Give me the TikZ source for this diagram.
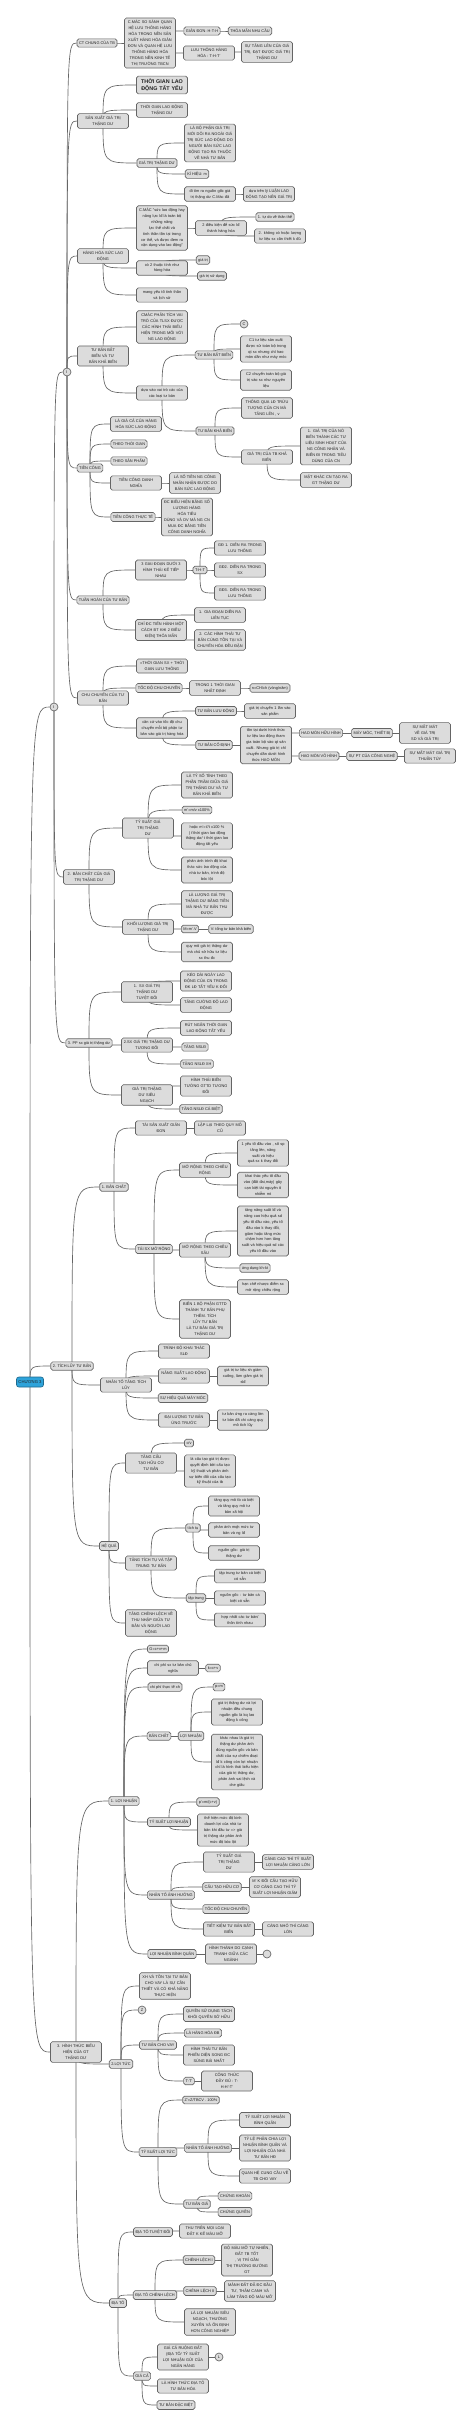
\documentclass[tikz,border=0pt]{standalone}
\usepackage{fontspec}
\setmainfont{Liberation Sans}
\usepackage{tikz}
\usetikzlibrary{backgrounds}
\definecolor{mmfill}{HTML}{DCDCDC}
\definecolor{mmline}{HTML}{656565}
\definecolor{mmtext}{HTML}{222222}
\definecolor{mmroot}{HTML}{2EA3DA}

\begin{document}
\begin{tikzpicture}[
  x=1pt, y=-1pt,
  box/.style={
    draw=mmline, fill=mmfill, rounded corners=1.8pt, line width=0.65pt,
    text=mmtext, font=\fontsize{3.9}{5.9}\selectfont,
    inner xsep=2pt, inner ysep=2.4pt, align=center
  },
  wbox/.style={box, text width=47pt},
  bigbox/.style={wbox, font=\fontsize{5.4}{7.2}\selectfont\bfseries},
  dot/.style={
    draw=mmline, fill=mmfill, circle, line width=0.65pt, inner sep=0.4pt,
    minimum size=8pt, text=mmtext, font=\fontsize{3.9}{4.5}\selectfont
  },
  rootbox/.style={
    box, fill=mmroot, draw=mmroot!65!black, rounded corners=2.5pt,
    minimum width=26pt, minimum height=10pt, font=\fontsize{4.2}{5}\selectfont
  },
  link/.style={draw=mmline, line width=0.65pt},
]
\useasboundingbox (0,0) rectangle (474,2428);

% Root
\node[rootbox] (root) at (30,1382) {CHƯƠNG 3};

% Part I / II
\node[dot] (cII) at (54,707) {I};
\node[dot] (cI) at (67,372) {I};

% CT chung
\node[box] (n1) at (97,43) {CT CHUNG CỦA TB};
\node[wbox] (n1a) at (150,43) {C.MÁC SO SÁNH QUAN\\HỆ LƯU THÔNG HÀNG\\HÓA TRONG NỀN SẢN\\XUẤT HÀNG HÓA GIẢN\\ĐƠN VÀ QUAN HỆ LƯU\\THÔNG HÀNG HÓA\\TRONG NỀN KINH TẾ\\THỊ TRƯỜNG TBCN};
\node[box] (n1a1) at (202,31) {GIẢN ĐƠN: H-T-H};
\node[box] (n1a1a) at (250,31) {THỎA MÃN NHU CẦU};
\node[wbox] (n1a2) at (209,53) {LƯU THÔNG HÀNG\\HÓA : T-H-T'};
\node[wbox] (n1a2a) at (267,52) {SỰ TĂNG LÊN CỦA GIÁ\\TRỊ, ĐẠT ĐƯỢC GIÁ TRỊ\\THẶNG DƯ};

% San xuat gia tri thang du
\node[wbox] (n2) at (103,121) {SẢN XUẤT GIÁ TRỊ\\THẶNG DƯ};
\node[bigbox] (n2a) at (162,85) {THỜI GIAN LAO\\ĐỘNG TẤT YẾU};
\node[wbox] (n2b) at (162,110) {THỜI GIAN LAO ĐỘNG\\THẶNG DƯ};
\node[box] (n2c) at (157,163) {GIÁ TRỊ THẶNG DƯ};
\node[wbox] (n2c1) at (210,143) {LÀ BỘ PHẬN GIÁ TRỊ\\MỚI DÔI RA NGOÀI GIÁ\\TRỊ SỨC LAO ĐỘNG DO\\NGƯỜI BÁN SỨC LAO\\ĐỘNG TẠO RA THUỘC\\VỀ NHÀ TƯ BẢN};
\node[box] (n2c2) at (197,174) {KÍ HIỆU: m};
\node[wbox] (n2c3) at (210,194) {đi tìm ra nguồn gốc giá\\trị thặng dư C.Mác đã};
\node[wbox] (n2c3a) at (269,194) {dựa trên lý LUẬN LAO\\ĐỘNG TẠO NÊN GIÁ TRỊ};

% Hang hoa suc lao dong
\node[wbox] (n3) at (103,256) {HÀNG HÓA SỨC LAO\\ĐỘNG};
\node[wbox] (n3a) at (162,228) {C.MÁC "sức lao động hay\\năng lực lđ là toàn bộ\\những năng lực thể chất và\\tinh thần tồn tại trong\\cơ thể, và được đem ra\\vận dụng vào lao động"};
\node[wbox] (n3a1) at (221,228) {2 điều kiện để sức lđ\\thành hàng hóa};
\node[box] (n3a1a) at (275,217) {1. tự do về thân thể};
\node[wbox] (n3a1b) at (280,236) {2. không có hoặc lượng\\tư liệu sx cần thiết k đủ};
\node[wbox] (n3b) at (162,268) {có 2 thuộc tính như\\hàng hóa};
\node[box] (n3b1) at (203,260) {giá trị};
\node[box] (n3b2) at (212,276) {giá trị sử dụng};
\node[wbox] (n3c) at (162,295) {mang yếu tố tinh thần\\và lịch sử};

% Tu ban bat bien va kha bien
\node[wbox] (n4) at (103,356) {TƯ BẢN BẤT BIẾN VÀ TƯ\\BẢN KHẢ BIẾN};
\node[wbox] (n4a) at (162,327) {CMÁC PHÂN TÍCH VAI\\TRÒ CỦA TLSX ĐƯỢC\\CÁC HÌNH THÁI BIỂU\\HIỆN TRONG MỐI VỚI\\NG LAO ĐỘNG};
\node[wbox] (n4b) at (162,393) {dựa vào vai trò các của\\các loại tư bản};
\node[box] (n4b1) at (214,355) {TƯ BẢN BẤT BIẾN};
\node[dot] (n4b1a) at (244,324) {C};
\node[wbox] (n4b1b) at (266,349) {C1 tư liệu sản xuất\\được sử toàn bộ trong\\qt sx nhưng chỉ hao\\mòn dần như máy móc};
\node[wbox] (n4b1c) at (266,380) {C2 chuyển toàn bộ giá\\trị vào sx như nguyên\\liệu};
\node[box] (n4b2) at (215,431) {TƯ BẢN KHẢ BIẾN};
\node[wbox] (n4b2a) at (267,408) {THÔNG QUA LĐ TRỪU\\TƯỢNG CỦA CN MÀ\\TĂNG LÊN , v};
\node[wbox] (n4b2b) at (267,457) {GIÁ TRỊ CỦA TB KHẢ\\BIẾN};
\node[wbox] (n4b2b1) at (326,446) {1. GIÁ TRỊ CỦA NÓ\\BIẾN THÀNH CÁC TƯ\\LIỆU SINH HOẠT CỦA\\NG CÔNG NHÂN VÀ\\BIẾN ĐI TRONG TIÊU\\DÙNG CỦA CN};
\node[wbox] (n4b2b2) at (326,480) {MẶT KHÁC CN TẠO RA\\GT THẶNG DƯ};

% Tien cong
\node[box] (n5) at (90,468) {TIỀN CÔNG};
\node[wbox] (n5a) at (136,424) {LÀ GIÁ CẢ CỦA HÀNG\\HÓA SỨC LAO ĐỘNG};
\node[box] (n5b) at (129,444) {THEO THỜI GIAN};
\node[box] (n5c) at (129,461) {THEO SẢN PHẨM};
\node[wbox] (n5d) at (136,483) {TIỀN CÔNG DANH\\NGHĨA};
\node[wbox] (n5d1) at (195,483) {LÀ SỐ TIỀN NG CÔNG\\NHÂN NHẬN ĐƯỢC DO\\BÁN SỨC LAO ĐỘNG};
\node[box] (n5e) at (133,517) {TIỀN CÔNG THỰC TẾ};
\node[wbox] (n5e1) at (187,517) {ĐC BIỂU HIỆN BẰNG SỐ\\LƯỢNG HÀNG HÓA TIÊU\\DÙNG VÀ DV MÀ NG CN\\MUA ĐC BẰNG TIỀN\\CÔNG DANH NGHĨA};

% Tuan hoan cua tu ban
\node[box] (n6) at (103,600) {TUẦN HOÀN CỦA TƯ BẢN};
\node[wbox] (n6a) at (161,570) {3 GIAI ĐOẠN DƯỚI 3\\HÌNH THÁI KẾ TIẾP\\NHAU};
\node[box] (n6a1) at (200,570) {T-H-T};
\node[wbox] (n6a1a) at (240,548) {GĐ 1. DIỄN RA TRONG\\LƯU THÔNG};
\node[wbox] (n6a1b) at (240,570) {GĐ2. DIỄN RA TRONG\\SX};
\node[wbox] (n6a1c) at (240,593) {GĐ3. DIỄN RA TRONG\\LƯU THÔNG};
\node[wbox] (n6b) at (161,630) {CHỈ ĐC TIẾN HÀNH MỘT\\CÁCH BT KHI 2 ĐIỀU\\KIỆN] THỎA MÃN};
\node[wbox] (n6b1) at (220,615) {1. GIA ĐOẠN DIỄN RA\\LIÊN TỤC};
\node[wbox] (n6b2) at (220,640) {2. CÁC HÌNH THÁI TƯ\\BẢN CÙNG TỒN TẠI VÀ\\CHUYỂN HÓA ĐỀU ĐẶN};

% Chu chuyen cua tu ban
\node[wbox] (n7) at (103,698) {CHU CHUYỂN CỦA TƯ\\BẢN};
\node[wbox] (n7a) at (162,666) {=THỜI GIAN SX + THỜI\\GIAN LƯU THÔNG};
\node[box] (n7b) at (159,688) {TỐC ĐỘ CHU CHUYỂN};
\node[wbox] (n7b1) at (215,688) {TRONG 1 THỜI GIAN\\NHẤT ĐỊNH};
\node[box] (n7b1a) at (270,688) {n=CH/ch (vòng/năm)};
\node[wbox] (n7c) at (162,728) {căn cứ vào tốc độ chu\\chuyển mỗi bộ phận tư\\bản vào giá trị hàng hóa};
\node[box] (n7c1) at (216,711) {TƯ BẢN LƯU ĐỘNG};
\node[wbox] (n7c1a) at (270,711) {giá trị chuyển 1 lần vào\\sản phẩm};
\node[box] (n7c2) at (214,745) {TƯ BẢN CỐ ĐỊNH};
\node[wbox] (n7c2a) at (266,745) {tồn tại dưới hình thức\\tư liệu lao động tham\\gia toàn bộ vào qt sản\\xuất. Nhưng giá trị chỉ\\chuyển dần dưới hình\\thức HAO MÒN};
\node[box] (n7c2a1) at (321,733) {HAO MÒN HỮU HÌNH};
\node[box] (n7c2a1a) at (372,733) {MÁY MÓC, THIẾT BỊ};
\node[wbox] (n7c2a1b) at (425,733) {SỰ MẤT MÁT VỀ GIÁ TRỊ\\SD VÀ GIÁ TRỊ};
\node[box] (n7c2a2) at (319,756) {HAO MÒN VÔ HÌNH};
\node[box] (n7c2a2a) at (372,756) {SỰ PT CỦA CÔNG NGHỆ};
\node[wbox] (n7c2a2b) at (430,756) {SỰ MẤT MÁT GIÁ TRỊ\\THUẦN TÚY};

% Ban chat cua gia tri thang du
\node[wbox] (b2) at (89,877) {2. BẢN CHẤT CỦA GIÁ\\TRỊ THẶNG DƯ};
\node[wbox] (b2a) at (148,828) {TỶ SUẤT GIÁ TRỊ THẶNG\\DƯ};
\node[wbox] (b2a1) at (207,785) {LÀ TỶ SỐ TÍNH THEO\\PHẦN TRĂM GIỮA GIÁ\\TRỊ THẶNG DƯ VÀ TƯ\\BẢN KHẢ BIẾN};
\node[box] (b2a2) at (197,810) {m'=m/v x100\%};
\node[wbox] (b2a3) at (207,836) {hoặc m'=t'/t x100 \%\\( t'thời gian lao động\\thặng dư/ t thời gian lao\\động tất yếu};
\node[wbox] (b2a4) at (207,870) {phản ánh trình độ khai\\thác sức lao động của\\nhà tư bản, trình độ\\bóc lột};
\node[wbox] (b2b) at (148,927) {KHỐI LƯỢNG GIÁ TRỊ\\THẶNG DƯ};
\node[wbox] (b2b1) at (207,904) {LÀ LƯỢNG GIÁ TRỊ\\THẶNG DƯ BẰNG TIỀN\\MÀ NHÀ TƯ BẢN THU\\ĐƯỢC};
\node[box] (b2b2) at (190,929) {M=m'.V};
\node[box] (b2b2a) at (231,929) {V: tổng tư bản khả biến};
\node[wbox] (b2b3) at (207,952) {quy mô giá trị thặng dư\\mà chủ sở hữu tư liệu\\sx thu đc};

% PP san xuat gia tri thang du
\node[box] (b3) at (89,1043) {3. PP sx giá trị thặng dư};
\node[wbox] (b3a) at (147,992) {1. SX GIÁ TRỊ THẶNG DƯ\\TUYỆT ĐỐI};
\node[wbox] (b3a1) at (206,981) {KÉO DÀI NGÀY LAO\\ĐỘNG CỦA CN TRONG\\ĐK LĐ TẤT YẾU K ĐỔI};
\node[wbox] (b3a2) at (206,1005) {TĂNG CƯỜNG ĐỘ LAO\\ĐỘNG};
\node[wbox] (b3b) at (147,1045) {2.SX GIÁ TRỊ THẶNG DƯ\\TƯƠNG ĐỐI};
\node[wbox] (b3b1) at (206,1028) {RÚT NGẮN THỜI GIAN\\LAO ĐỘNG TẤT YẾU};
\node[box] (b3b2) at (195,1047) {TĂNG NSLĐ};
\node[box] (b3b3) at (197,1064) {TĂNG NSLĐ XH};
\node[wbox] (b3c) at (147,1095) {GIÁ TRỊ THẶNG DƯ SIÊU\\NGẠCH};
\node[wbox] (b3c1) at (206,1086) {HÌNH THÁI BIẾN\\TƯỚNG GTTD TƯƠNG\\ĐỐI};
\node[box] (b3c2) at (201,1109) {TĂNG NSLĐ CÁ BIỆT};

% Tich luy tu ban
\node[box] (t) at (72,1366) {2. TÍCH LŨY TƯ BẢN};
\node[box] (t1) at (114,1187) {1. BẢN CHẤT};
\node[wbox] (t1a) at (161,1128) {TÁI SẢN XUẤT GIẢN\\ĐƠN};
\node[wbox] (t1a1) at (220,1128) {LẶP LẠI THEO QUY MÔ\\CŨ};
\node[box] (t1b) at (154,1249) {TÁI SX MỞ RỘNG};
\node[wbox] (t1b1) at (205,1170) {MỞ RỘNG THEO CHIỀU\\RỘNG};
\node[wbox] (t1b1a) at (263,1153) {1 yếu tố đầu vào , số sp\\tăng lên, năng suất và hiệu\\quả sx k thay đổi};
\node[wbox] (t1b1b) at (263,1185) {khai thác yếu tố đầu\\vào (đất đai,máy) gây\\cạn kiệt tài nguyên ô\\nhiễm mt};
\node[wbox] (t1b2) at (205,1250) {MỞ RỘNG THEO CHIỀU\\SÂU};
\node[wbox] (t1b2a) at (263,1231) {tăng năng suất lđ và\\nâng cao hiệu quả sd\\yếu tố đầu vào, yếu tố\\đầu vào k thay đổi,\\giảm hoặc tăng mức\\chậm hơn hơn tăng\\suất và hiệu quả sd các\\yếu tố đầu vào};
\node[box] (t1b2b) at (255,1268) {ứng dụng kh-kt};
\node[wbox] (t1b2c) at (263,1287) {hạn chế nhược điểm sx\\mở rộng chiều rộng};
\node[wbox] (t1b3) at (205,1319) {BIẾN 1 BỘ PHẬN GTTD\\THÀNH TƯ BẢN PHỤ\\THÊM. TÍCH LŨY TƯ BẢN\\LÀ TƯ BẢN GIÁ TRỊ\\THẶNG DƯ};
\node[wbox] (t2) at (126,1385) {NHÂN TỐ TĂNG TÍCH\\LŨY};
\node[wbox] (t2a) at (184,1351) {TRÌNH ĐỘ KHAI THÁC\\SLĐ};
\node[wbox] (t2b) at (184,1376) {NĂNG SUẤT LAO ĐỘNG\\XH};
\node[wbox] (t2b1) at (243,1376) {giá trị tư liệu sh giảm\\xuống, làm giảm giá trị\\slđ};
\node[box] (t2c) at (183,1398) {SỰ HIỆU QUẢ MÁY MÓC};
\node[wbox] (t2d) at (184,1420) {ĐẠI LƯỢNG TƯ BẢN\\ỨNG TRƯỚC};
\node[wbox] (t2d1) at (243,1420) {tư bản ứng ra càng lớn\\tư bản đã chi càng quy\\mô tích lũy};
\node[box] (t3) at (109,1546) {HỆ QUẢ};
\node[wbox] (t3a) at (151,1463) {TĂNG CẤU TẠO HỮU CƠ\\TƯ BẢN};
\node[box] (t3a1) at (189,1443) {c/v};
\node[wbox] (t3a2) at (210,1471) {là cấu tạo giá trị được\\quyết định bởi cấu tạo\\kỹ thuật và phản ánh\\sự biến đổi của cấu tạo\\kỹ thuật của tb};
\node[wbox] (t3b) at (151,1563) {TĂNG TÍCH TỤ VÀ TẬP\\TRUNG TƯ BẢN};
\node[box] (t3b1) at (193,1528) {tích tụ};
\node[wbox] (t3b1a) at (234,1506) {tăng quy mô tb cá biệt\\và tăng quy mô tư\\bản xã hội};
\node[wbox] (t3b1b) at (234,1530) {phản ánh mqh mức tư\\bản và ng lđ};
\node[wbox] (t3b1c) at (234,1553) {nguồn gốc: giá trị\\thặng dư};
\node[box] (t3b2) at (196,1598) {tập trung};
\node[wbox] (t3b2a) at (240,1576) {tập trung tư bản cá biệt\\có sẵn};
\node[wbox] (t3b2b) at (240,1598) {nguồn gốc : tư bản cá\\biệt có sẵn};
\node[wbox] (t3b2c) at (240,1620) {hợp nhất các tư bản/\\thôn tính nhau};
\node[wbox] (t3c) at (151,1623) {TĂNG CHÊNH LỆCH VỀ\\THU NHẬP GIỮA TƯ\\BẢN VÀ NGƯỜI LAO\\ĐỘNG};

% Hinh thuc bieu hien
\node[wbox] (h) at (76,2052) {3. HÌNH THỨC BIỂU\\HIỆN CỦA GT THẶNG DƯ};
\node[box] (h1) at (124,1801) {1. LỢI NHUẬN};
\node[box] (h1a) at (158,1649) {G=c+v+m};
\node[wbox] (h1b) at (173,1668) {chi phí sx tư bản chủ\\nghĩa};
\node[box] (h1b1) at (213,1668) {k=c+v};
\node[box] (h1c) at (165,1687) {chi phí thực tế xh};
\node[box] (h1d) at (159,1736) {BẢN CHẤT};
\node[box] (h1d1) at (191,1736) {LỢI NHUẬN};
\node[box] (h1d1a) at (219,1687) {p=m};
\node[wbox] (h1d1b) at (237,1712) {giá trị thặng dư và lợi\\nhuận đều chung\\nguồn gốc là kq lao\\động k công};
\node[wbox] (h1d1c) at (237,1762) {khác nhau là giá trị\\thặng dư phản ánh\\đúng nguồn gốc và bản\\chất của sự chiếm đoạt\\lđ k công còn lợi nhuận\\chỉ là hình thái biểu hiện\\của giá trị thặng dư,\\phản ánh sai lệch và\\che giấu};
\node[box] (h1e) at (169,1822) {TỶ SUẤT LỢI NHUẬN};
\node[box] (h1e1) at (208,1802) {p'=m/(c+v)};
\node[wbox] (h1e2) at (223,1830) {thể hiện mức độ kinh\\doanh lợi của nhà tư\\bản khi đầu tư => giá\\trị thặng dư phản ánh\\mức độ bóc lột};
\node[box] (h1f) at (171,1895) {NHÂN TỐ ẢNH HƯỞNG};
\node[wbox] (h1f1) at (229,1862) {TỶ SUẤT GIÁ TRỊ THẶNG\\DƯ};
\node[wbox] (h1f1a) at (288,1862) {CÀNG CAO THÌ TỶ SUẤT\\LỢI NHUẬN CÀNG LỚN};
\node[box] (h1f2) at (222,1887) {CẤU TẠO HỮU CƠ};
\node[wbox] (h1f2a) at (275,1887) {M' K ĐỔI CẤU TẠO HỮU\\CƠ CÀNG CAO THÌ TỶ\\SUẤT LỢI NHUẬN GIẢM};
\node[box] (h1f3) at (226,1909) {TỐC ĐỘ CHU CHUYỂN};
\node[wbox] (h1f4) at (229,1929) {TIẾT KIỆM TƯ BẢN BẤT\\BIẾN};
\node[wbox] (h1f4a) at (288,1929) {CÀNG NHỎ THÌ CÀNG\\LỚN};
\node[box] (h1g) at (172,1954) {LỢI NHUẬN BÌNH QUÂN};
\node[wbox] (h1g1) at (231,1954) {HÌNH THÀNH DO CẠNH\\TRANH GIỮA CÁC\\NGÀNH};
\node[dot] (h1g1a) at (267,1954) {};

\node[box] (h2) at (121,2064) {2.LỢI TỨC};
\node[wbox] (h2a) at (165,1986) {XH VÀ TỒN TẠI TƯ BẢN\\CHO VAY LÀ SỰ CẦN\\THIẾT VÀ CÓ KHẢ NĂNG\\THỰC HIỆN};
\node[dot] (h2b) at (142,2010) {Z};
\node[box] (h2c) at (158,2045) {TƯ BẢN CHO VAY};
\node[wbox] (h2c1) at (209,2014) {QUYỀN SỬ DỤNG TÁCH\\KHỎI QUYỀN SỞ HỮU};
\node[box] (h2c2) at (203,2033) {LÀ HÀNG HÓA ĐB};
\node[wbox] (h2c3) at (209,2055) {HÌNH THÁI TƯ BẢN\\PHIẾN DIỆN SONG ĐC\\SÙNG BÁI NHẤT};
\node[box] (h2c4) at (189,2081) {T-T'};
\node[wbox] (h2c4a) at (227,2081) {CÔNG THỨC ĐẦY ĐỦ : T-\\H-H'-T'};
\node[box] (h2d) at (158,2152) {TỶ SUẤT LỢI TỨC};
\node[box] (h2d1) at (201,2100) {Z'=Z/TBCV . 100\%};
\node[box] (h2d2) at (208,2148) {NHÂN TỐ ẢNH HƯỞNG};
\node[wbox] (h2d2a) at (265,2120) {TỶ SUẤT LỢI NHUẬN\\BÌNH QUÂN};
\node[wbox] (h2d2b) at (265,2148) {TỶ LỆ PHÂN CHIA LỢI\\NHUẬN BÌNH QUÂN VÀ\\LỢI NHUẬN CỦA NHÀ\\TƯ BẢN HĐ};
\node[wbox] (h2d2c) at (265,2176) {QUAN HỆ CUNG CẦU VỀ\\TB CHO VAY};
\node[box] (h2d3) at (197,2204) {TƯ BẢN GIẢ};
\node[box] (h2d3a) at (235,2196) {CHỨNG KHOÁN};
\node[box] (h2d3b) at (235,2212) {CHỨNG QUYỀN};

\node[box] (h3) at (118,2303) {ĐỊA TÔ};
\node[box] (h3a) at (153,2232) {ĐỊA TÔ TUYỆT ĐỐI};
\node[wbox] (h3a1) at (205,2231) {THU TRÊN MỌI LOẠI\\ĐẤT K KỂ MÀU MỠ};
\node[box] (h3b) at (155,2295) {ĐỊA TÔ CHÊNH LỆCH};
\node[box] (h3b1) at (199,2260) {CHÊNH LỆCH I};
\node[wbox] (h3b1a) at (247,2260) {ĐỘ MÀU MỠ TỰ NHIÊN,\\ĐẤT TB TỐT , VỊ TRÍ GẦN\\THỊ TRƯỜNG ĐƯỜNG\\GT};
\node[box] (h3b2) at (200,2291) {CHÊNH LỆCH II};
\node[wbox] (h3b2a) at (250,2291) {MẢNH ĐẤT ĐÃ ĐC ĐẦU\\TƯ, THÂM CANH VÀ\\LÀM TĂNG ĐỘ MÀU MỠ};
\node[wbox] (h3b3) at (210,2322) {LÀ LỢI NHUẬN SIÊU\\NGẠCH, THƯỜNG\\XUYÊN VÀ ỔN ĐỊNH\\HƠN CÔNG NGHIỆP};
\node[box] (h3c) at (142,2376) {GIÁ CẢ};
\node[wbox] (h3c1) at (183,2357) {GIÁ CẢ RUỘNG ĐẤT\\(ĐỊA TÔ/ TỶ SUẤT\\LỢI NHUẬN GỬI CỦA\\NGÂN HÀNG};
\node[dot] (h3c1a) at (219,2357) {L};
\node[wbox] (h3c2) at (183,2386) {LÀ HÌNH THỨC ĐỊA TÔ\\TƯ BẢN HÓA};
\node[box] (h3c3) at (176,2405) {TƯ BẢN ĐẶC BIỆT};

% Connectors
\begin{scope}[on background layer]
  \fill[white] (0,0) rectangle (474,2428);
  \foreach \p/\c in {root/cII, root/t, root/h, cII/cI, cII/b2, cII/b3,
    cI/n1, cI/n2, cI/n3, cI/n4, cI/n5, cI/n6, cI/n7,
    n1/n1a, n1a/n1a1, n1a1/n1a1a, n1a/n1a2, n1a2/n1a2a,
    n2/n2a, n2/n2b, n2/n2c, n2c/n2c1, n2c/n2c2, n2c/n2c3, n2c3/n2c3a,
    n3/n3a, n3a/n3a1, n3a1/n3a1a, n3a1/n3a1b, n3/n3b, n3b/n3b1, n3b/n3b2, n3/n3c,
    n4/n4a, n4/n4b, n4b/n4b1, n4b1/n4b1a, n4b1/n4b1b, n4b1/n4b1c,
    n4b/n4b2, n4b2/n4b2a, n4b2/n4b2b, n4b2b/n4b2b1, n4b2b/n4b2b2,
    n5/n5a, n5/n5b, n5/n5c, n5/n5d, n5/n5e, n5d/n5d1, n5e/n5e1,
    n6/n6a, n6a/n6a1, n6a1/n6a1a, n6a1/n6a1b, n6a1/n6a1c, n6/n6b, n6b/n6b1, n6b/n6b2,
    n7/n7a, n7/n7b, n7b/n7b1, n7b1/n7b1a, n7/n7c, n7c/n7c1, n7c1/n7c1a,
    n7c/n7c2, n7c2/n7c2a, n7c2a/n7c2a1, n7c2a1/n7c2a1a, n7c2a1a/n7c2a1b,
    n7c2a/n7c2a2, n7c2a2/n7c2a2a, n7c2a2a/n7c2a2b,
    b2/b2a, b2a/b2a1, b2a/b2a2, b2a/b2a3, b2a/b2a4,
    b2/b2b, b2b/b2b1, b2b/b2b2, b2b2/b2b2a, b2b/b2b3,
    b3/b3a, b3a/b3a1, b3a/b3a2, b3/b3b, b3b/b3b1, b3b/b3b2, b3b/b3b3,
    b3/b3c, b3c/b3c1, b3c/b3c2,
    t/t1, t/t2, t/t3, t1/t1a, t1a/t1a1, t1/t1b, t1b/t1b1, t1b1/t1b1a, t1b1/t1b1b,
    t1b/t1b2, t1b2/t1b2a, t1b2/t1b2b, t1b2/t1b2c, t1b/t1b3,
    t2/t2a, t2/t2b, t2b/t2b1, t2/t2c, t2/t2d, t2d/t2d1,
    t3/t3a, t3a/t3a1, t3a/t3a2, t3/t3b, t3b/t3b1, t3b1/t3b1a, t3b1/t3b1b, t3b1/t3b1c,
    t3b/t3b2, t3b2/t3b2a, t3b2/t3b2b, t3b2/t3b2c, t3/t3c,
    h/h1, h/h2, h/h3,
    h1/h1a, h1/h1b, h1b/h1b1, h1/h1c, h1/h1d, h1d/h1d1, h1d1/h1d1a, h1d1/h1d1b, h1d1/h1d1c,
    h1/h1e, h1e/h1e1, h1e/h1e2, h1/h1f, h1f/h1f1, h1f1/h1f1a, h1f/h1f2, h1f2/h1f2a,
    h1f/h1f3, h1f/h1f4, h1f4/h1f4a, h1/h1g, h1g/h1g1, h1g1/h1g1a,
    h2/h2a, h2/h2b, h2/h2c, h2c/h2c1, h2c/h2c2, h2c/h2c3, h2c/h2c4, h2c4/h2c4a,
    h2/h2d, h2d/h2d1, h2d/h2d2, h2d2/h2d2a, h2d2/h2d2b, h2d2/h2d2c,
    h2d/h2d3, h2d3/h2d3a, h2d3/h2d3b,
    h3/h3a, h3a/h3a1, h3/h3b, h3b/h3b1, h3b1/h3b1a, h3b/h3b2, h3b2/h3b2a, h3b/h3b3,
    h3/h3c, h3c/h3c1, h3c1/h3c1a, h3c/h3c2, h3c/h3c3}
    \draw[link] (\p.center) .. controls (\p.center |- \c.west) .. (\c.west);
\end{scope}

\end{tikzpicture}
\end{document}
